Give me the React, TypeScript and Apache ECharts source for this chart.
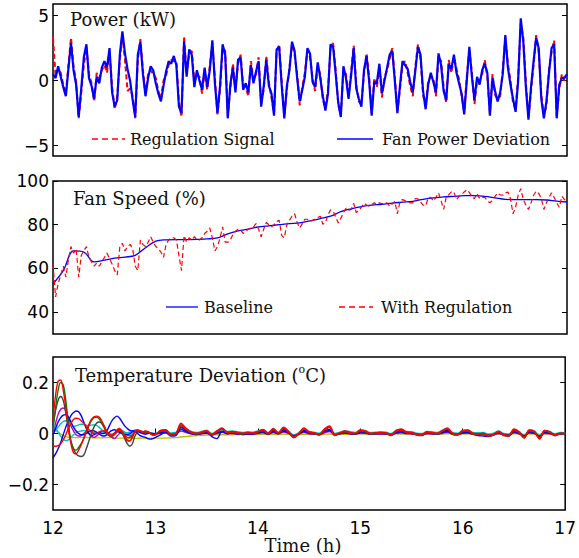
import React, { useEffect, useRef } from "react";
import * as echarts from "echarts";

// ---------- Panel 1: Power (kW), sampled every 0.025 h from 12 h ----------
const POWER_REGULATION = [
  3.3,0.4,0.9,0.6,-0.3,-1.0,1.2,3.3,1.1,-0.1,
  -2.9,-0.9,1.2,2.6,0.5,-0.2,-1.6,0.6,0.2,0.8,
  1.2,0.6,2.2,-0.5,-2.2,-1.2,1.6,3.5,1.6,-0.8,
  -0.6,-1.2,-2.9,1.6,3.2,0.8,-1.0,0.5,0.8,0.5,
  0.2,-0.8,-1.4,0.0,0.4,1.2,1.6,1.5,1.5,-1.6,
  -2.8,3.4,0.6,2.0,2.3,-0.1,0.4,0.3,-1.0,0.7,
  -0.7,1.1,2.9,0.2,-2.6,-0.7,2.5,2.3,-2.7,-0.6,
  1.3,-0.6,1.3,2.0,-0.4,-0.5,-1.2,1.5,0.1,0.5,
  1.8,-1.7,-0.7,1.9,-0.1,-1.3,-2.5,2.2,2.8,-0.1,
  -2.7,-0.7,1.0,2.8,2.0,0.5,-1.9,-0.5,0.6,2.3,
  1.8,0.2,-0.8,1.1,0.5,-1.5,-2.1,-0.7,2.5,2.9,
  0.8,-1.9,-2.6,0.8,0.5,-1.1,0.7,2.7,-0.3,-1.6,
  -1.8,0.5,2.1,0.3,-2.5,0.2,-0.5,1.0,-1.3,0.3,
  0.8,1.7,2.5,0.3,-2.3,-0.7,1.2,1.5,0.6,-0.4,
  -1.2,1.1,2.8,1.7,-1.1,-2.0,0.0,0.3,0.2,-1.2,
  1.8,1.5,-0.5,-1.7,1.6,0.6,1.8,0.9,0.1,-1.2,
  -2.4,0.3,2.3,0.6,-1.8,0.0,0.0,0.5,1.6,0.3,
  -2.5,0.5,-1.1,-1.4,-1.2,0.8,3.3,1.3,0.0,-1.7,
  -2.2,0.3,4.4,3.3,-0.2,-2.8,-0.8,1.2,3.5,2.2,
  -1.1,-2.7,-1.9,0.9,2.2,3.1,-2.7,-0.6,0.5,0.0,
  0.3,
];
const POWER_FAN = [
  0.5,0.2,1.1,0.3,-0.5,-1.2,0.9,2.9,0.8,-0.3,
  -2.8,-0.6,1.8,2.8,0.2,-0.4,-1.4,0.3,-0.2,1.0,
  1.5,1.0,2.5,-0.9,-2.0,-1.5,2.0,3.8,2.1,0.9,
  0.0,-1.5,-2.8,2.0,3.0,0.5,-1.2,0.2,1.1,0.8,
  -0.2,-1.0,-1.6,-0.4,0.7,1.5,1.3,1.9,1.2,-2.0,
  -2.5,3.0,0.3,2.4,2.0,-0.5,0.8,0.0,-0.7,1.0,
  -0.5,0.8,3.1,-0.2,-2.5,-0.4,2.8,2.0,-2.9,-0.3,
  1.0,-0.9,1.6,1.8,-0.7,-0.2,-0.9,1.2,-0.2,0.7,
  1.5,-2.0,-0.4,1.6,-0.4,-1.0,-2.7,2.4,2.6,-0.4,
  -2.9,-0.4,0.8,3.0,2.3,0.2,-1.6,-0.7,0.3,2.5,
  2.1,-0.1,-0.5,1.4,0.2,-1.2,-2.3,-1.0,2.8,2.6,
  0.5,-1.7,-2.8,1.1,0.2,-1.4,0.4,2.5,-0.6,-1.4,
  -2.0,0.8,1.9,0.0,-2.7,-0.1,-0.2,1.3,-1.0,0.0,
  1.0,2.0,2.3,0.0,-2.5,-0.4,1.5,1.2,0.9,-0.1,
  -0.9,0.8,2.6,2.0,-0.8,-2.2,-0.3,0.6,-0.1,-0.9,
  2.1,1.2,-0.8,-1.5,1.3,0.9,2.0,0.6,-0.2,-1.0,
  -2.6,0.0,2.6,0.3,-1.5,0.3,-0.3,0.8,1.3,0.6,
  -2.7,0.2,-0.8,-1.6,-0.9,0.5,3.5,1.0,-0.3,-1.4,
  -2.4,0.0,4.8,3.0,-0.5,-3.0,-0.5,1.5,3.3,2.5,
  -1.4,-2.9,-1.6,0.6,2.5,2.8,-2.9,-0.3,0.2,0.2,
  0.5,
];

// ---------- Panel 2: Fan speed (%) ----------
// baseline every 0.1 h from 12 h
const SPEED_BASELINE = [
  53,59,68,67.5,63,63.8,64.7,65.2,66,69.5,
  72.5,73.1,73.2,73.2,73.3,73.5,74,75.8,77.2,78,
  79,79.5,80,80.5,80.8,81.8,82.8,83.9,86,87.3,
  88.3,89,89.3,89.9,90.3,90.7,91.6,92.3,92.7,93,
  93.3,93.3,93,92.3,91.6,91.5,91.5,91.5,91.3,90.8,
  90.4,
];
// with regulation every 0.025 h from 12 h
const SPEED_REGULATION = [
  62,47,53,57,61,56,64,70,67,69,
  56,66,68,70,65,63,61,62.5,61,63,
  65,67,64.5,62,59,57,70,71.5,68,70,
  71,69,61,59,73,71,70,72,74.5,72,
  70,69,67.5,65,71,73,74,74,73,66,
  59,75,72,74,73,74.5,73,73,74,76,
  77,78.5,74,68,70,74,79,72,72,73,
  75.5,77,78,77.5,76,77,78,78.5,79,80.5,
  78,74.5,78,81,80,79,80,81.5,82,75,
  74,80,82,84,85,81,78.5,80.5,82.5,82.5,
  81.6,82,82.6,83.3,83.9,80.2,81,84.5,86.8,86.2,
  83.5,80.8,83,85.5,87.5,86.5,87,89.8,85.6,86.5,
  88,89.8,89,88.5,89.2,90,89.2,90,89.6,90,
  90,88.4,89.5,90.7,85,90.5,91.5,91,90.3,90,
  90,92,91.8,90.5,89,88.6,92.3,92.5,90.8,92.5,
  94.5,91,87,92.6,93.8,95,95,91.5,93,93.8,
  95,96,94.8,92.5,92,94.3,92,92.5,92.5,91,
  90,91.2,93,94.5,93.6,93.5,94.5,95,92,85,
  88,93.5,96.5,91.5,89,87,90,93.5,95.3,94.3,
  92,87,90,92.5,94.6,92.5,90,88,93,91.5,
  90.7,
];

// ---------- Panel 3: Temperature deviation (°C) ----------
// 41 values every 0.025 h from 12 h to 13 h, then 80 values every 0.05 h from 13.05 h to 17 h
const TEMP_RED_A = [
  0.05,0.15,0.205,0.21,0.17,0.10,0.02,-0.04,-0.075,-0.08,-0.065,-0.045,-0.02,0.01,0.035,0.055,0.065,0.068,0.065,0.05,0.03,0.01,-0.005,-0.01,0.0,0.015,0.02,0.008,-0.012,-0.028,-0.03,-0.015,0.008,0.015,0.01,0.005,0.01,0.008,0.0,-0.005,-0.005,
  0.012,0.015,-0.005,0.0,0.04,0.02,0.005,0.0,0.005,0.012,
  -0.005,0.01,0.022,0.005,0.008,0.004,0.0,0.004,0.002,0.008,
  0.016,0.0,0.02,0.002,0.025,0.008,-0.016,0.0,0.022,0.006,
  0.002,-0.004,0.018,0.03,-0.006,0.002,0.01,0.004,0.0,0.014,
  0.01,0.0,0.002,0.004,0.002,-0.006,0.012,0.018,0.006,0.004,
  -0.004,-0.006,0.006,0.004,0.0,0.012,0.022,0.0,-0.004,0.012,
  0.014,0.0,-0.002,0.0,-0.01,-0.004,0.008,-0.006,-0.01,0.018,
  0.006,-0.018,0.014,0.008,-0.022,0.012,0.006,-0.008,0.0,0.0,
];
const TEMP_GREEN = [
  0.02,0.10,0.17,0.20,0.19,0.13,0.04,-0.03,-0.06,-0.065,-0.055,-0.04,-0.02,0.005,0.03,0.05,0.062,0.064,0.058,0.042,0.022,0.005,-0.008,-0.01,0.0,0.012,0.015,0.005,-0.012,-0.025,-0.028,-0.014,0.006,0.012,0.01,0.006,0.008,0.006,0.0,-0.005,-0.004,
  0.01,0.013,-0.004,0.0,0.034,0.018,0.004,0.0,0.004,0.01,
  -0.004,0.008,0.019,0.004,0.007,0.003,0.0,0.003,0.002,0.007,
  0.014,0.0,0.017,0.002,0.021,0.007,-0.013,0.0,0.019,0.005,
  0.002,-0.003,0.015,0.026,-0.005,0.002,0.008,0.003,0.0,0.012,
  0.008,0.0,0.002,0.003,0.002,-0.005,0.01,0.015,0.005,0.003,
  -0.003,-0.005,0.005,0.003,0.0,0.01,0.019,0.0,-0.003,0.01,
  0.012,0.0,-0.002,0.0,-0.008,-0.003,0.007,-0.005,-0.008,0.015,
  0.005,-0.015,0.012,0.007,-0.019,0.01,0.005,-0.007,0.0,0.0,
];
const TEMP_BLACK = [
  0.03,0.09,0.13,0.145,0.13,0.08,0.02,-0.03,-0.06,-0.08,-0.088,-0.09,-0.085,-0.06,-0.03,0.0,0.025,0.04,0.045,0.04,0.025,0.005,-0.01,-0.012,-0.005,0.005,0.01,0.0,-0.02,-0.04,-0.05,-0.04,-0.01,0.005,0.01,0.008,0.005,0.006,0.0,-0.006,-0.004,
  0.008,0.01,-0.008,-0.004,0.034,0.016,0.002,-0.004,0.002,0.008,
  -0.008,0.006,0.018,0.002,0.005,0.0,-0.003,0.0,-0.001,0.005,
  0.012,-0.003,0.016,-0.001,0.02,0.004,-0.016,-0.003,0.018,0.003,
  -0.001,-0.006,0.014,0.025,-0.008,-0.001,0.007,0.001,-0.003,0.01,
  0.007,-0.003,-0.001,0.001,-0.001,-0.008,0.008,0.014,0.003,0.001,
  -0.006,-0.008,0.003,0.001,-0.003,0.008,0.018,-0.003,-0.006,0.008,
  0.01,-0.003,-0.004,-0.003,-0.011,-0.006,0.005,-0.008,-0.011,0.014,
  0.003,-0.017,0.011,0.005,-0.02,0.009,0.003,-0.009,-0.002,-0.002,
];
const TEMP_MAGENTA = [
  0.0,0.04,0.075,0.095,0.10,0.09,0.06,0.03,0.01,-0.005,-0.01,-0.008,0.0,0.005,0.0,-0.01,-0.015,-0.01,0.0,0.01,0.012,0.005,-0.005,-0.015,-0.02,-0.01,0.0,0.005,0.002,-0.005,-0.01,-0.005,0.005,0.01,0.008,0.005,0.004,0.005,0.0,-0.004,-0.003,
  0.001,0.002,-0.005,-0.003,0.01,0.004,-0.001,-0.003,-0.001,0.001,
  -0.005,0.0,0.005,-0.001,0.0,-0.002,-0.003,-0.002,-0.002,0.0,
  0.003,-0.003,0.004,-0.002,0.006,0.0,-0.009,-0.003,0.005,-0.001,
  -0.002,-0.004,0.003,0.008,-0.005,-0.002,0.001,-0.002,-0.003,0.002,
  0.001,-0.003,-0.002,-0.002,-0.002,-0.005,0.001,0.003,-0.001,-0.002,
  -0.004,-0.005,-0.001,-0.002,-0.003,0.001,0.005,-0.003,-0.004,0.001,
  0.002,-0.003,-0.003,-0.003,-0.006,-0.004,0.0,-0.005,-0.006,0.003,
  -0.001,-0.009,0.002,0.0,-0.01,0.001,-0.001,-0.005,-0.002,-0.002,
];
const TEMP_BLUE_A = [
  -0.095,-0.08,-0.06,-0.035,-0.005,0.025,0.05,0.07,0.082,0.088,0.085,0.07,0.045,0.02,0.0,-0.008,-0.005,0.0,0.005,0.0,0.0,0.01,0.03,0.05,0.062,0.068,0.06,0.045,0.03,0.02,0.012,0.01,0.008,0.0,-0.008,-0.012,-0.015,-0.02,-0.022,-0.02,-0.015,
  -0.005,0.005,-0.01,-0.008,0.025,0.012,0.0,-0.004,0.0,0.004,
  -0.012,-0.02,0.008,0.0,0.002,-0.002,-0.004,-0.002,-0.002,0.004,
  0.01,-0.002,0.012,0.0,0.015,0.004,-0.01,-0.002,0.012,0.003,
  0.0,-0.004,0.01,0.016,-0.004,0.0,0.005,0.001,-0.002,0.008,
  0.006,-0.002,0.0,0.002,0.0,-0.004,0.007,0.01,0.003,0.002,
  -0.003,-0.004,0.003,0.002,-0.001,0.007,0.012,-0.001,-0.003,0.007,
  0.008,-0.002,-0.008,-0.01,-0.012,-0.006,0.004,-0.004,-0.006,0.01,
  0.003,-0.01,0.008,0.004,-0.012,0.007,0.003,-0.005,0.0,0.0,
];
const TEMP_BLUE_B = [
  -0.005,0.02,0.045,0.062,0.072,0.074,0.065,0.045,0.025,0.01,0.0,-0.005,-0.005,0.0,0.008,0.012,0.01,0.005,-0.002,-0.008,-0.01,-0.005,0.005,0.012,0.015,0.01,0.004,0.0,-0.004,-0.005,0.0,0.006,0.01,0.008,0.004,0.0,-0.002,0.0,0.002,0.0,-0.002,
  0.003,0.005,-0.004,-0.002,0.016,0.007,0.0,-0.002,0.0,0.003,
  -0.004,0.002,0.008,0.0,0.002,0.0,-0.002,0.0,-0.001,0.002,
  0.005,-0.002,0.007,-0.001,0.009,0.002,-0.009,-0.002,0.008,0.001,
  -0.001,-0.004,0.006,0.012,-0.005,-0.001,0.003,0.0,-0.002,0.004,
  0.003,-0.002,-0.001,0.0,-0.001,-0.005,0.003,0.006,0.001,0.0,
  -0.004,-0.005,0.001,0.0,-0.002,0.003,0.008,-0.002,-0.004,0.003,
  0.004,-0.002,-0.003,-0.002,-0.007,-0.004,0.002,-0.005,-0.006,0.006,
  0.001,-0.01,0.005,0.002,-0.012,0.004,0.001,-0.005,-0.001,-0.001,
];
const TEMP_CYAN_A = [
  0.0,0.012,0.025,0.038,0.047,0.05,0.045,0.035,0.028,0.03,0.034,0.036,0.035,0.033,0.032,0.033,0.034,0.032,0.025,0.015,0.005,-0.003,-0.008,-0.006,0.002,0.01,0.015,0.012,0.006,0.003,0.005,0.01,0.014,0.012,0.008,0.006,0.008,0.006,0.002,0.0,0.0,
  0.012,0.014,0.002,0.004,0.03,0.018,0.008,0.004,0.008,0.012,
  0.0,0.01,0.018,0.008,0.01,0.007,0.004,0.007,0.005,0.01,
  0.015,0.004,0.018,0.005,0.021,0.01,-0.007,0.004,0.019,0.008,
  0.005,0.001,0.016,0.024,0.0,0.005,0.011,0.007,0.004,0.014,
  0.011,0.004,0.005,0.007,0.005,0.0,0.012,0.016,0.008,0.007,
  0.001,0.0,0.008,0.007,0.004,0.012,0.019,0.004,0.001,0.012,
  0.013,0.004,0.003,0.004,-0.003,0.001,0.01,0.0,-0.003,0.016,
  0.008,-0.009,0.014,0.01,-0.011,0.012,0.008,-0.002,0.004,0.003,
];
const TEMP_CYAN_B = [
  0.03,0.02,0.005,-0.01,-0.022,-0.028,-0.025,-0.015,-0.005,0.003,0.008,0.01,0.012,0.01,0.008,0.006,0.004,0.003,0.004,0.006,0.006,0.003,0.0,-0.002,0.002,0.008,0.012,0.01,0.004,-0.002,-0.004,0.0,0.006,0.01,0.008,0.005,0.006,0.005,0.001,-0.002,-0.001,
  0.006,0.008,-0.002,0.0,0.02,0.01,0.003,0.0,0.003,0.006,
  -0.002,0.005,0.011,0.003,0.004,0.002,0.0,0.002,0.001,0.004,
  0.008,0.0,0.01,0.001,0.012,0.004,-0.008,0.0,0.011,0.003,
  0.001,-0.002,0.009,0.015,-0.003,0.001,0.005,0.002,0.0,0.007,
  0.005,0.0,0.001,0.002,0.001,-0.003,0.006,0.009,0.003,0.002,
  -0.002,-0.003,0.003,0.002,0.0,0.006,0.011,0.0,-0.002,0.006,
  0.007,0.0,-0.001,0.0,-0.005,-0.002,0.004,-0.003,-0.005,0.009,
  0.003,-0.009,0.007,0.004,-0.011,0.006,0.003,-0.004,0.0,0.0,
];
const TEMP_RED_B = [
  -0.05,-0.05,-0.048,-0.04,-0.025,-0.005,0.02,0.04,0.055,0.06,0.058,0.05,0.04,0.028,0.015,0.005,0.0,0.0,0.005,0.01,0.01,0.004,-0.004,-0.006,0.0,0.01,0.014,0.006,-0.006,-0.015,-0.016,-0.008,0.006,0.012,0.01,0.005,0.008,0.006,0.0,-0.005,-0.004,
  0.01,0.012,-0.004,0.0,0.032,0.016,0.004,0.0,0.004,0.01,
  -0.004,0.008,0.018,0.004,0.006,0.003,0.0,0.003,0.002,0.006,
  0.013,0.0,0.016,0.002,0.02,0.006,-0.013,0.0,0.018,0.005,
  0.002,-0.003,0.014,0.024,-0.005,0.002,0.008,0.003,0.0,0.011,
  0.008,0.0,0.002,0.003,0.002,-0.005,0.01,0.014,0.005,0.003,
  -0.003,-0.005,0.005,0.003,0.0,0.01,0.018,0.0,-0.003,0.01,
  0.011,0.0,-0.002,0.0,-0.008,-0.003,0.006,-0.005,-0.008,0.014,
  0.005,-0.014,0.011,0.006,-0.018,0.01,0.005,-0.006,0.0,0.0,
];
const TEMP_YELLOW = [
  0.02,0.012,0.005,-0.002,-0.008,-0.012,-0.015,-0.016,-0.016,
  -0.016,-0.016,-0.015,-0.015,-0.015,-0.016,-0.016,-0.017,-0.017,-0.017,
  -0.017,-0.016,-0.016,-0.016,-0.016,-0.017,-0.018,-0.018,-0.018,-0.018,
  -0.018,-0.019,-0.019,-0.019,-0.019,-0.018,-0.018,-0.018,-0.018,-0.018,
  -0.018,-0.018,
  -0.018,-0.018,-0.017,-0.016,-0.014,-0.012,-0.01,-0.008,-0.007,-0.006,
  -0.006,-0.005,-0.005,-0.005,-0.005,-0.004,-0.004,-0.004,-0.004,-0.004,
  -0.003,-0.004,-0.003,-0.004,-0.003,-0.003,-0.005,-0.004,-0.003,-0.003,
  -0.003,-0.004,-0.003,-0.002,-0.004,-0.003,-0.003,-0.003,-0.003,-0.002,
  -0.002,-0.003,-0.003,-0.003,-0.003,-0.003,-0.002,-0.002,-0.002,-0.002,
  -0.003,-0.003,-0.002,-0.002,-0.002,-0.002,-0.001,-0.002,-0.002,-0.002,
  -0.002,-0.002,-0.002,-0.002,-0.003,-0.002,-0.002,-0.002,-0.003,-0.001,
  -0.002,-0.003,-0.002,-0.002,-0.003,-0.002,-0.002,-0.002,-0.002,-0.002,
];

// ---------- axis ticks ----------
const X_TICKS = [12, 13, 14, 15, 16, 17];
const POWER_TICKS = [-5, 0, 5];
const SPEED_TICKS = [40, 60, 80, 100];
const TEMP_TICKS = [-0.2, 0, 0.2];

// time grids
const fineTime = (i: number) => Math.round((12 + i * 0.025) * 1000) / 1000;
const baseTime = (i: number) => Math.round((12 + i * 0.1) * 100) / 100;
const tempTime = (i: number) =>
  i <= 40 ? Math.round((12 + i * 0.025) * 1000) / 1000 : Math.round((13 + (i - 40) * 0.05) * 1000) / 1000;

const SANS = "DejaVu Sans";
const SERIF = "DejaVu Serif";

function yPair(grid: number, min: number, max: number, ticks: number[]) {
  const tick = { show: true, inside: true, length: 5, customValues: ticks, lineStyle: { color: "#000", width: 1 } };
  return [
    {
      type: "value", gridIndex: grid, min, max, position: "left",
      axisLine: { show: false }, splitLine: { show: false },
      axisTick: tick,
      axisLabel: {
        customValues: ticks, color: "#000", fontFamily: SANS, fontSize: 17, margin: 4,
        formatter: (v: number) => String(v).replace("-", "\u2212"),
      },
    },
    {
      type: "value", gridIndex: grid, min, max, position: "right",
      axisLine: { show: false }, splitLine: { show: false },
      axisTick: tick, axisLabel: { show: false },
    },
  ];
}

function xAx(grid: number, labels: boolean) {
  return {
    type: "value", gridIndex: grid, min: X_TICKS[0], max: X_TICKS[X_TICKS.length - 1], interval: 1,
    axisLine: { show: false }, splitLine: { show: false },
    axisTick: { show: labels, inside: true, length: 5, lineStyle: { color: "#000" } },
    axisLabel: { show: labels, color: "#000", fontFamily: SANS, fontSize: 17, margin: 9 },
  };
}

const line = (name: string, xi: number, yi: number, data: number[][], color: string, width: number, dashed?: boolean, smooth?: boolean) => ({
  name, type: "line", xAxisIndex: xi, yAxisIndex: yi, data,
  showSymbol: false, symbol: "none", smooth: smooth ? 0.35 : false,
  lineStyle: { color, width, type: dashed ? [5, 3] : "solid" },
  itemStyle: { color },
  emphasis: { disabled: true },
});

export default function App() {
  const ref = useRef<HTMLDivElement>(null);
  useEffect(() => {
    const chart = echarts.init(ref.current!, null, { renderer: "svg" });
    const pReg = POWER_REGULATION.map((v, i) => [fineTime(i), v]);
    const pFan = POWER_FAN.map((v, i) => [fineTime(i), v]);
    const sBase = SPEED_BASELINE.map((v, i) => [baseTime(i), v]);
    const sReg = SPEED_REGULATION.map((v, i) => [fineTime(i), v]);
    const tz = (arr: number[]) => arr.map((v, i) => [tempTime(i), v]);

    const tempSeries = [
      ["yellow", TEMP_YELLOW, "#bfbf00"],
      ["magenta", TEMP_MAGENTA, "#bf00bf"],
      ["cyanB", TEMP_CYAN_B, "#00bfbf"],
      ["cyanA", TEMP_CYAN_A, "#00bfbf"],
      ["blueB", TEMP_BLUE_B, "#0000ff"],
      ["blueA", TEMP_BLUE_A, "#0000ff"],
      ["black", TEMP_BLACK, "#404040"],
      ["green", TEMP_GREEN, "#008000"],
      ["redB", TEMP_RED_B, "#ff0000"],
      ["redA", TEMP_RED_A, "#ff0000"],
    ].map(([n, arr, c]) => line(n as string, 2, 4, tz(arr as number[]), c as string, 1.4, false, true));

    const gridBase = { left: 53, right: 12, show: true, borderColor: "#000", borderWidth: 1.5, backgroundColor: "transparent" };

    chart.setOption({
      animation: false,
      backgroundColor: "#fff",
      grid: [
        { ...gridBase, top: 4, height: 152 },
        { ...gridBase, top: 181, height: 153 },
        { ...gridBase, top: 357, height: 153 },
      ],
      xAxis: [xAx(0, false), xAx(1, false), xAx(2, true)],
      yAxis: [
        ...yPair(0, -5.8, 5.9, POWER_TICKS),
        ...yPair(1, 30, 100, SPEED_TICKS),
        ...yPair(2, -0.3, 0.3, TEMP_TICKS),
      ],
      series: [
        line("Regulation Signal", 0, 0, pReg, "#ff0000", 2, true),
        line("Fan Power Deviation", 0, 0, pFan, "#0000ff", 2.2),
        line("Baseline", 1, 2, sBase, "#0000ff", 1.3, false, true),
        line("With Regulation", 1, 2, sReg, "#ff0000", 1.2, true),
        ...tempSeries,
      ],
      graphic: [
        { type: "text", x: 70, y: 19, style: { text: "Power (kW)", font: `18px "${SERIF}"`, fill: "#111", textVerticalAlign: "middle" } },
        { type: "text", x: 73, y: 198, style: { text: "Fan Speed (%)", font: `18px "${SERIF}"`, fill: "#111", textVerticalAlign: "middle" } },
        {
          type: "text", x: 75, y: 362,
          style: {
            text: "{a|Temperature Deviation (}{s|o}{a|C)}",
            fill: "#111",
            rich: {
              a: { fontSize: 18, fontFamily: SERIF, fill: "#111", lineHeight: 22, verticalAlign: "bottom" },
              s: { fontSize: 11, fontFamily: SERIF, fill: "#111", lineHeight: 22, verticalAlign: "top", padding: [2, 0, 0, 0] },
            },
          },
        },
        { type: "text", x: 303, y: 545, style: { text: "Time (h)", font: `18px "${SERIF}"`, fill: "#111", textAlign: "center", textVerticalAlign: "middle" } },
        // legends
        { type: "line", shape: { x1: 92, y1: 139, x2: 125, y2: 139 }, style: { stroke: "#ff0000", lineWidth: 1.3, lineDash: [6, 4] } },
        { type: "text", x: 130, y: 139, style: { text: "Regulation Signal", font: `16px "${SERIF}"`, fill: "#111", textVerticalAlign: "middle" } },
        { type: "line", shape: { x1: 337, y1: 139, x2: 373, y2: 139 }, style: { stroke: "#0000ff", lineWidth: 1.3 } },
        { type: "text", x: 382, y: 139, style: { text: "Fan Power Deviation", font: `16px "${SERIF}"`, fill: "#111", textVerticalAlign: "middle" } },
        { type: "line", shape: { x1: 166, y1: 307, x2: 198, y2: 307 }, style: { stroke: "#0000ff", lineWidth: 1.3 } },
        { type: "text", x: 204, y: 307, style: { text: "Baseline", font: `16px "${SERIF}"`, fill: "#111", textVerticalAlign: "middle" } },
        { type: "line", shape: { x1: 339, y1: 307, x2: 373, y2: 307 }, style: { stroke: "#ff0000", lineWidth: 1.3, lineDash: [6, 4] } },
        { type: "text", x: 381, y: 307, style: { text: "With Regulation", font: `16px "${SERIF}"`, fill: "#111", textVerticalAlign: "middle" } },
      ],
    });
    return () => chart.dispose();
  }, []);
  return (
    <div
      ref={ref}
      style={{ position: "fixed", left: 0, top: 0, width: 579, height: 558, background: "#fff" }}
    />
  );
}
